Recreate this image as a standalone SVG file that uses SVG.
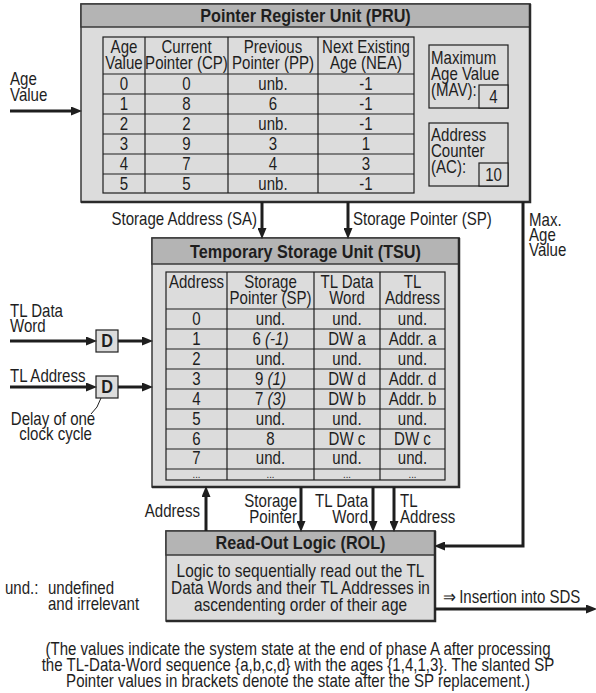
<svg xmlns="http://www.w3.org/2000/svg" width="596" height="693" viewBox="0 0 596 693">
<defs>
<marker id="ah" markerUnits="userSpaceOnUse" markerWidth="11" markerHeight="9" refX="5" refY="4.5" orient="auto" viewBox="0 0 11 9">
<path d="M0,0 L11,4.5 L0,9 z" fill="#1e1e1e"/>
</marker>
<style>
.t{font-family:"Liberation Sans",Arial,Helvetica,sans-serif;font-size:17.5px;fill:#1e1e1e}
.b{font-weight:bold;font-size:18px}
.m{text-anchor:middle}
.e{text-anchor:end}
.i{font-style:italic}
.d{font-size:11px}
.box{fill:#dcdcdc;stroke:#3a3a3a;stroke-width:1.5}
.hdr{fill:#b4b4b4;stroke:#3a3a3a;stroke-width:1.5}
.shd{fill:none;stroke:#2a2a2a;stroke-width:2.5}
.grid{fill:none;stroke:#1e1e1e;stroke-width:1.2}
.cell{fill:#dcdcdc;stroke:#1e1e1e;stroke-width:1.2}
.wire{fill:none;stroke:#1e1e1e;stroke-width:3;marker-end:url(#ah)}
.thin{fill:none;stroke:#1e1e1e;stroke-width:1}
</style>
</defs>
<rect width="596" height="693" fill="#ffffff"/>

<g id="pru">
<rect class="box" x="81" y="4" width="449" height="198"/>
<rect class="hdr" x="81" y="4" width="449" height="23"/>
<path class="shd" d="M530,4V202H81"/>
<g class="t b m" transform="translate(305.5 0) scale(.9 1)"><text y="22">Pointer Register Unit (PRU)</text></g>
<rect class="grid" x="103" y="37" width="311" height="156"/>
<path class="grid" d="M145,37V193M228,37V193M318,37V193M103,74H414M103,94H414M103,114H414M103,134H414M103,154H414M103,174H414"/>
<g class="t m" transform="translate(124 0) scale(.86 1)">
<text y="53.5">Age<tspan x="0" dy="15.5">Value</tspan></text>
<text y="90.5">0</text><text y="110.5">1</text><text y="130.5">2</text><text y="150.5">3</text><text y="170.5">4</text><text y="190">5</text>
</g>
<g class="t m" transform="translate(186.5 0) scale(.86 1)">
<text y="53.5">Current<tspan x="0" dy="15.5">Pointer (CP)</tspan></text>
<text y="90.5">0</text><text y="110.5">8</text><text y="130.5">2</text><text y="150.5">9</text><text y="170.5">7</text><text y="190">5</text>
</g>
<g class="t m" transform="translate(273 0) scale(.86 1)">
<text y="53.5">Previous<tspan x="0" dy="15.5">Pointer (PP)</tspan></text>
<text y="90.5">unb.</text><text y="110.5">6</text><text y="130.5">unb.</text><text y="150.5">3</text><text y="170.5">4</text><text y="190">unb.</text>
</g>
<g class="t m" transform="translate(366 0) scale(.86 1)">
<text y="53.5">Next Existing<tspan x="0" dy="15.5">Age (NEA)</tspan></text>
<text y="90.5">-1</text><text y="110.5">-1</text><text y="130.5">-1</text><text y="150.5">1</text><text y="170.5">3</text><text y="190">-1</text>
</g>
<g id="mav">
<rect class="cell" x="429" y="45" width="79" height="63"/>
<rect class="cell" x="479" y="85" width="29" height="23"/>
<g class="t" transform="translate(431 0) scale(.86 1)"><text y="64">Maximum<tspan x="0" dy="16">Age Value</tspan><tspan x="0" dy="16">(MAV):</tspan></text></g>
<g class="t m" transform="translate(493.5 0) scale(.86 1)"><text y="103">4</text></g>
</g>
<g id="ac">
<rect class="cell" x="429" y="123" width="79" height="63"/>
<rect class="cell" x="479" y="163" width="29" height="23"/>
<g class="t" transform="translate(431 0) scale(.86 1)"><text y="141">Address<tspan x="0" dy="16">Counter</tspan><tspan x="0" dy="16">(AC):</tspan></text></g>
<g class="t m" transform="translate(493.5 0) scale(.86 1)"><text y="181">10</text></g>
</g>
</g>

<g id="tsu">
<rect class="box" x="152" y="238" width="307" height="249"/>
<rect class="hdr" x="152" y="238" width="307" height="26"/>
<path class="shd" d="M459,238V487H152"/>
<g class="t b m" transform="translate(305.5 0) scale(.9 1)"><text y="258">Temporary Storage Unit (TSU)</text></g>
<rect class="grid" x="166" y="272" width="279" height="208"/>
<path class="grid" d="M227,272V480M314,272V480M380,272V480M166,309H445M166,329H445M166,349H445M166,369H445M166,389H445M166,409H445M166,429H445M166,449H445M166,469H445"/>
<g class="t m" transform="translate(196.5 0) scale(.86 1)">
<text y="288">Address</text>
<text y="325.5">0</text><text y="345.5">1</text><text y="365.5">2</text><text y="385.5">3</text><text y="405.5">4</text><text y="425.5">5</text><text y="445.5">6</text><text y="464">7</text><text class="d" y="478">...</text>
</g>
<g class="t m" transform="translate(270.5 0) scale(.86 1)">
<text y="288">Storage<tspan x="0" dy="16">Pointer (SP)</tspan></text>
<text y="325.5">und.</text><text y="345.5">6 <tspan class="i">(-1)</tspan></text><text y="365.5">und.</text><text y="385.5">9 <tspan class="i">(1)</tspan></text><text y="405.5">7 <tspan class="i">(3)</tspan></text><text y="425.5">und.</text><text y="445.5">8</text><text y="464">und.</text><text class="d" y="478">...</text>
</g>
<g class="t m" transform="translate(347 0) scale(.86 1)">
<text y="288">TL Data<tspan x="0" dy="16">Word</tspan></text>
<text y="325.5">und.</text><text y="345.5">DW a</text><text y="365.5">und.</text><text y="385.5">DW d</text><text y="405.5">DW b</text><text y="425.5">und.</text><text y="445.5">DW c</text><text y="464">und.</text><text class="d" y="478">...</text>
</g>
<g class="t m" transform="translate(412.5 0) scale(.86 1)">
<text y="288">TL<tspan x="0" dy="16">Address</tspan></text>
<text y="325.5">und.</text><text y="345.5">Addr. a</text><text y="365.5">und.</text><text y="385.5">Addr. d</text><text y="405.5">Addr. b</text><text y="425.5">und.</text><text y="445.5">DW c</text><text y="464">und.</text><text class="d" y="478">...</text>
</g>
</g>

<g id="delay1">
<rect class="cell" x="96" y="330" width="22" height="22"/>
<g class="t b m" transform="translate(107 0) scale(.9 1)"><text y="347.5">D</text></g>
</g>
<g id="delay2">
<rect class="cell" x="96" y="376" width="22" height="22"/>
<g class="t b m" transform="translate(107 0) scale(.9 1)"><text y="393.5">D</text></g>
</g>

<g id="rol">
<rect class="box" x="166" y="531" width="269" height="90"/>
<rect class="hdr" x="166" y="531" width="269" height="24"/>
<path class="shd" d="M435,531V621H166"/>
<g class="t b m" transform="translate(300.5 0) scale(.9 1)"><text y="549">Read-Out Logic (ROL)</text></g>
<g class="t m" transform="translate(300.5 0) scale(.88 1)">
<text y="577">Logic to sequentially read out the TL<tspan x="0" dy="17">Data Words and their TL Addresses in</tspan><tspan x="0" dy="17">ascendenting order of their age</tspan></text>
</g>
</g>

<g id="connectors">
<path class="wire" d="M10,111H76"/>
<path class="wire" d="M262,202V233"/>
<path class="wire" d="M348,202V233"/>
<path class="wire" d="M523,202V546H440"/>
<path class="wire" d="M10,341H91"/>
<path class="wire" d="M118,341H147"/>
<path class="wire" d="M10,387H91"/>
<path class="wire" d="M118,387H147"/>
<path class="wire" d="M206,531V492"/>
<path class="wire" d="M301,487V526"/>
<path class="wire" d="M373,487V526"/>
<path class="wire" d="M394,487V526"/>
<path class="wire" d="M435,609H591"/>
<path class="thin" d="M101,398Q98,408 91,414"/>
</g>

<g id="labels">
<g class="t" transform="translate(10 0) scale(.86 1)"><text y="85">Age<tspan x="0" dy="16">Value</tspan></text></g>
<g class="t e" transform="translate(257 0) scale(.86 1)"><text y="225">Storage Address (SA)</text></g>
<g class="t" transform="translate(353 0) scale(.86 1)"><text y="225">Storage Pointer (SP)</text></g>
<g class="t" transform="translate(529 0) scale(.86 1)"><text y="226">Max.<tspan x="0" dy="15">Age</tspan><tspan x="0" dy="15">Value</tspan></text></g>
<g class="t" transform="translate(10 0) scale(.86 1)"><text y="317">TL Data<tspan x="0" dy="15">Word</tspan></text><text y="382">TL Address</text></g>
<g class="t m" transform="translate(53 0) scale(.86 1)"><text y="425">Delay of one<tspan x="3" dy="15">clock cycle</tspan></text></g>
<g class="t e" transform="translate(200 0) scale(.86 1)"><text y="517">Address</text></g>
<g class="t e" transform="translate(297 0) scale(.86 1)"><text y="507">Storage<tspan x="0" dy="16">Pointer</tspan></text></g>
<g class="t e" transform="translate(368 0) scale(.86 1)"><text y="507">TL Data<tspan x="0" dy="16">Word</tspan></text></g>
<g class="t" transform="translate(400 0) scale(.86 1)"><text y="507">TL<tspan x="0" dy="16">Address</tspan></text></g>
<g class="t" transform="translate(443 0) scale(.86 1)"><text y="603">⇒ Insertion into SDS</text></g>
<g class="t" transform="translate(5 0) scale(.86 1)"><text y="594">und.:</text></g>
<g class="t" transform="translate(48 0) scale(.86 1)"><text y="594">undefined<tspan x="0" dy="16">and irrelevant</tspan></text></g>
<g class="t m" transform="translate(298 0) scale(.86 1)">
<text y="655">(The values indicate the system state at the end of phase A after processing<tspan x="0" dy="16">the TL-Data-Word sequence {a,b,c,d} with the ages {1,4,1,3}. The slanted SP</tspan><tspan x="0" dy="16">Pointer values in brackets denote the state after the SP replacement.)</tspan></text>
</g>
</g>
</svg>
